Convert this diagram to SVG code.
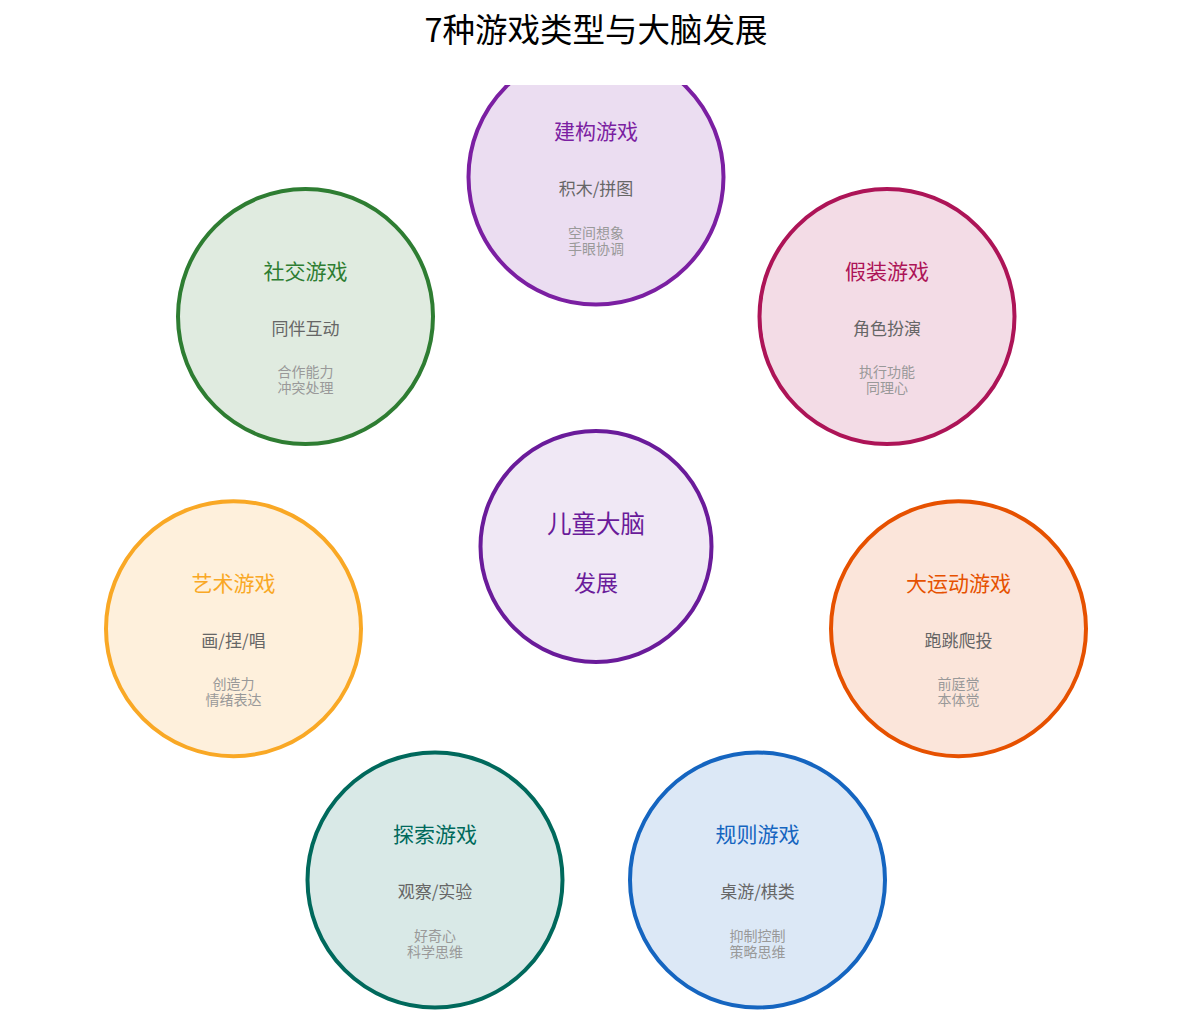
<svg xmlns="http://www.w3.org/2000/svg" width="1192" height="1024" viewBox="0 0 1192 1024">
<style>
text{font-family:"Noto Sans CJK SC","Noto Sans",sans-serif;text-anchor:middle;dominant-baseline:central}
.ttl{font-size:32.5px;fill:#000}
.nt{font-size:21px}
.sub{font-size:17px;fill:#666}
.desc{font-size:14px;fill:#999}
.node circle{stroke-width:4}
</style>
<defs>
<clipPath id="view"><rect x="0" y="85" width="1192" height="939"/></clipPath>
</defs>
<rect width="1192" height="1024" fill="#fff"/>
<text class="ttl" x="596" y="27">7种游戏类型与大脑发展</text>
<g id="connectors"></g>
<g clip-path="url(#view)">
<g id="node-build" class="node">
<circle cx="596" cy="177" r="127.5" fill="#ebddf1" stroke="#7b1fa2"/>
<text class="nt" x="596" y="130" fill="#7b1fa2">建构游戏</text>
<text class="sub" x="596" y="187.5">积木/拼图</text>
<text class="desc" x="596" y="231.5">空间想象<tspan x="596" dy="16">手眼协调</tspan></text>
</g>
</g>
<g id="node-pretend" class="node">
<circle cx="887" cy="316.5" r="127.5" fill="#f3dce6" stroke="#ad1457"/>
<text class="nt" x="887" y="269.5" fill="#ad1457">假装游戏</text>
<text class="sub" x="887" y="327">角色扮演</text>
<text class="desc" x="887" y="371">执行功能<tspan x="887" dy="16">同理心</tspan></text>
</g>
<g id="node-sport" class="node">
<circle cx="958.5" cy="628.7" r="127.5" fill="#fbe5da" stroke="#e65100"/>
<text class="nt" x="958.5" y="581.7" fill="#e65100">大运动游戏</text>
<text class="sub" x="958.5" y="639.2">跑跳爬投</text>
<text class="desc" x="958.5" y="683.2">前庭觉<tspan x="958.5" dy="16">本体觉</tspan></text>
</g>
<g id="node-rule" class="node">
<circle cx="757.5" cy="880" r="127.5" fill="#dce8f6" stroke="#1565c0"/>
<text class="nt" x="757.5" y="833" fill="#1565c0">规则游戏</text>
<text class="sub" x="757.5" y="890.5">桌游/棋类</text>
<text class="desc" x="757.5" y="934.5">抑制控制<tspan x="757.5" dy="16">策略思维</tspan></text>
</g>
<g id="node-explore" class="node">
<circle cx="435" cy="880" r="127.5" fill="#d9e9e7" stroke="#00695c"/>
<text class="nt" x="435" y="833" fill="#00695c">探索游戏</text>
<text class="sub" x="435" y="890.5">观察/实验</text>
<text class="desc" x="435" y="934.5">好奇心<tspan x="435" dy="16">科学思维</tspan></text>
</g>
<g id="node-art" class="node">
<circle cx="233.5" cy="628.7" r="127.5" fill="#fef0dc" stroke="#f9a825"/>
<text class="nt" x="233.5" y="581.7" fill="#f9a825">艺术游戏</text>
<text class="sub" x="233.5" y="639.2">画/捏/唱</text>
<text class="desc" x="233.5" y="683.2">创造力<tspan x="233.5" dy="16">情绪表达</tspan></text>
</g>
<g id="node-social" class="node">
<circle cx="305.5" cy="316.5" r="127.5" fill="#e0ebe0" stroke="#2e7d32"/>
<text class="nt" x="305.5" y="269.5" fill="#2e7d32">社交游戏</text>
<text class="sub" x="305.5" y="327">同伴互动</text>
<text class="desc" x="305.5" y="371">合作能力<tspan x="305.5" dy="16">冲突处理</tspan></text>
</g>
<g id="node-center" class="node">
<circle cx="596" cy="546.5" r="115.5" fill="#f0e8f5" stroke="#6a1b9a"/>
<text x="596" y="522.5" font-size="24.5" fill="#6a1b9a">儿童大脑</text>
<text x="596" y="580.5" font-size="22" fill="#6a1b9a">发展</text>
</g>
</svg>
